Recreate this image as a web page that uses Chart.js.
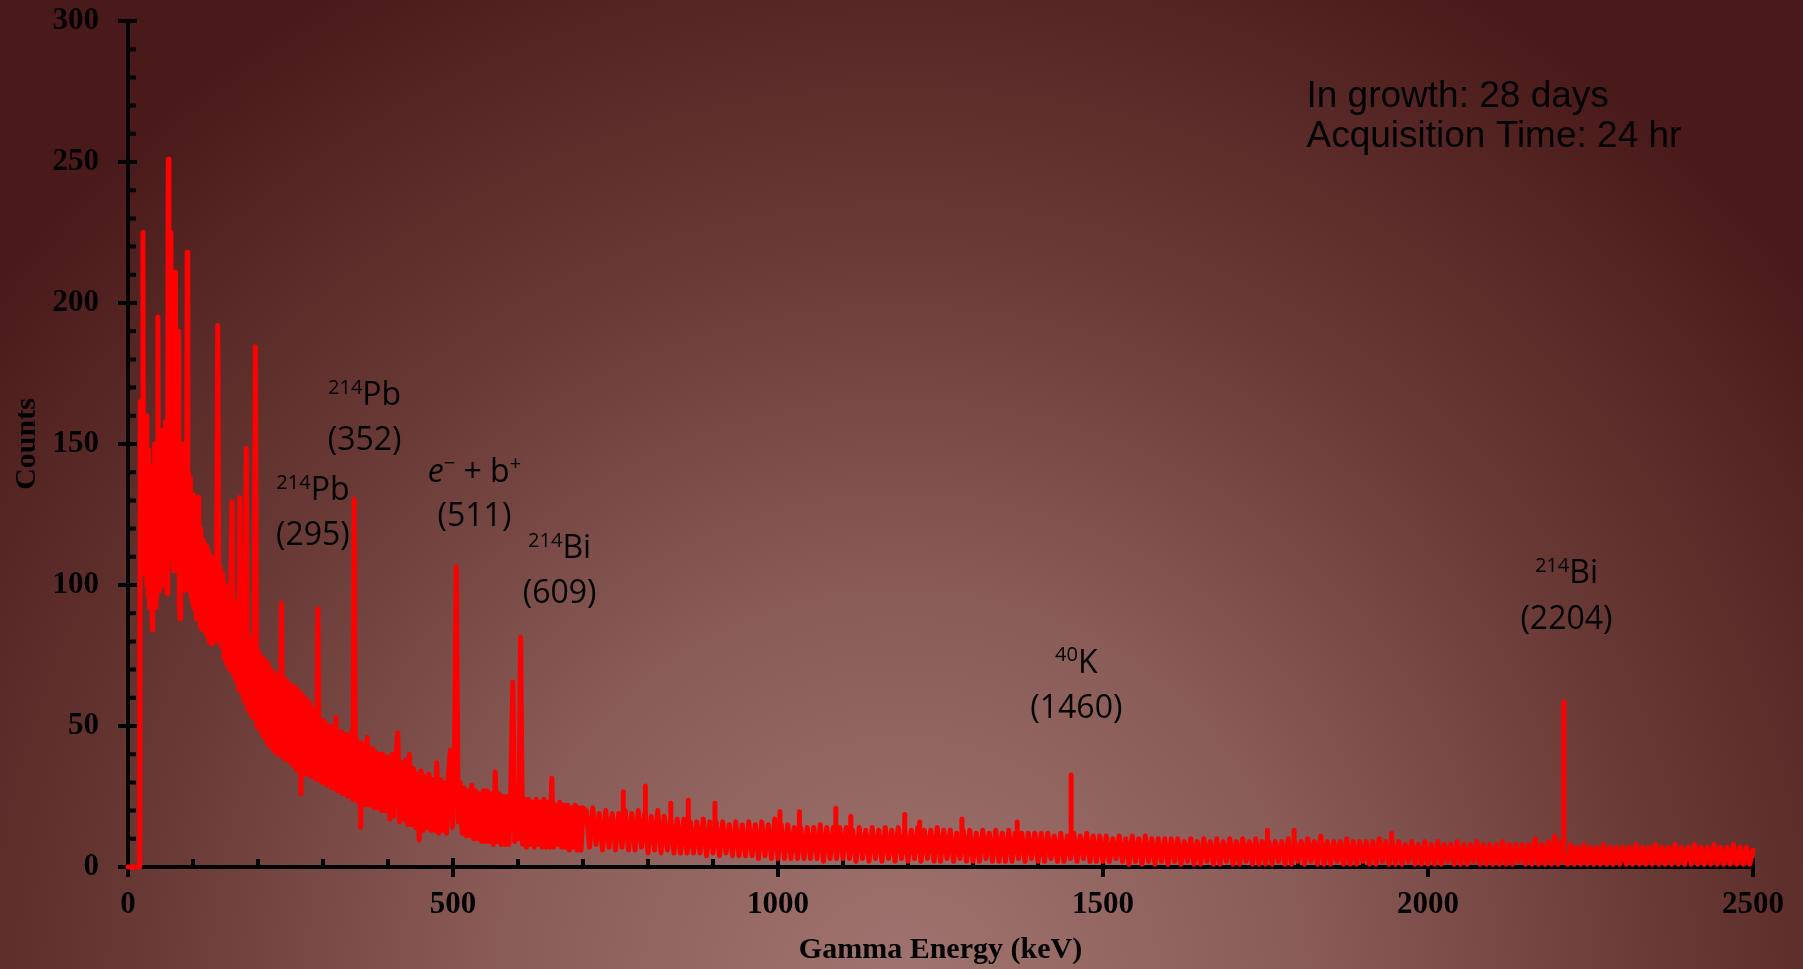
<!DOCTYPE html>
<html>
<head>
<meta charset="utf-8">
<script src="https://cdn.jsdelivr.net/npm/chart.js@4.4.1/dist/chart.umd.min.js"></script>
<style>
  html, body { margin: 0; padding: 0; overflow: hidden; background: #4a1a1a; }
  canvas { display: block; }
</style>
</head>
<body>
<canvas id="spectrum" width="1803" height="969" style="width:1803px;height:969px"></canvas>
<script>
// spectrum, one array of counts per energy segment
const baseEnergy = [0, 18];
const baseCounts = [0, 0];

// 19 .. 130 keV, 1 keV per point
const seg1Start = 19, seg1Step = 1;
const seg1Counts = [
  165, 110, 150, 105, 225, 112, 158, 104, 145, 160,
  100, 140, 96, 148, 92, 125, 98, 142, 88, 84,
  138, 95, 150, 92, 140, 95, 150, 195, 100, 148,
  98, 152, 104, 145, 100, 155, 108, 150, 104, 158,
  110, 97, 152, 251, 120, 160, 110, 225, 115, 150,
  108, 105, 148, 110, 211, 112, 155, 105, 150, 190,
  92, 88, 140, 100, 145, 102, 150, 98, 138, 104,
  145, 100, 218, 105, 140, 98, 135, 138, 96, 128,
  94, 132, 92, 125, 95, 120, 88, 122, 90, 131,
  88, 118, 85, 120, 88, 115, 84, 116, 86, 112,
  84, 114, 82, 110, 85, 112, 80, 108, 82, 110,
  79, 106
];

// 132 .. 400 keV, 2 keV per point
const seg2Start = 132, seg2Step = 2;
const seg2Counts = [
  80, 108, 84, 192, 80, 106, 78, 104, 74, 100,
  72, 98, 70, 96, 129.5, 68, 94, 66, 90, 63,
  131, 62, 87, 59, 86, 148.5, 56, 82, 54, 80,
  53, 78, 184.5, 50, 77, 49, 75, 47, 74, 46,
  73, 44, 72, 43, 70, 42, 69, 41, 68, 40,
  68, 40, 93.5, 39, 67, 38, 66, 38, 65, 37,
  64, 36, 64, 35, 63, 34, 62, 26, 61, 34,
  60, 33, 59, 33, 58, 32, 56, 32, 54, 31,
  91.5, 31, 52, 30, 52, 30, 51, 29, 50, 29,
  50, 28, 49, 28, 53, 27, 48, 27, 48, 26,
  47, 26, 47, 25, 46, 25, 48, 24, 130.5, 24,
  45, 23, 44, 14, 44, 23, 43, 22, 46, 22,
  42, 22, 42, 21, 41, 21, 40, 21, 40, 20,
  40, 20, 39, 20, 39
];

// 403 .. 700 keV, 3 keV per point
const seg3Start = 403, seg3Step = 3;
const seg3Counts = [
  17, 40, 18, 38, 47.5, 16, 37, 17, 38, 15,
  40, 15, 35, 14, 33, 9.6, 34, 13, 32, 14,
  33, 13, 31, 13, 37, 12, 31, 13, 30, 12,
  33, 41.5, 14, 34, 106.5, 16, 30, 12, 28, 11,
  27, 11, 29, 10, 27, 10, 26, 9, 27, 9,
  27, 9, 26, 8, 33.8, 9, 26, 8, 25, 8,
  25, 8, 28, 65.6, 9, 26, 10, 81.5, 8, 24,
  7, 24, 8, 23, 7, 24, 8, 23, 7, 24,
  7, 23, 7, 31.5, 7, 22, 8, 23, 7, 22,
  7, 22, 6, 21, 7, 22, 6, 21, 6, 21
];

// 705 .. 2500 keV, 5 keV per point (narrow lines are in the spike arrays below)
const seg4Start = 705, seg4Step = 5;
const seg4Counts = [
  20, 7, 21, 8, 19, 6, 20, 7, 19, 6,
  19, 7, 20, 6, 19, 6, 20, 7, 19, 5,
  18, 6, 20, 5, 18, 6, 17, 5, 17, 5,
  17, 5, 16, 5, 16, 5, 17, 4, 16, 5,
  16, 4, 16, 5, 15, 4, 16, 4, 15, 4,
  16, 4, 15, 3, 16, 4, 15, 3, 17, 3,
  15, 3, 15, 3, 14, 3, 14, 3, 14, 3,
  14, 3, 15, 2, 14, 3, 14, 3, 14, 3,
  14, 3, 13, 2, 14, 3, 13, 2, 14, 3,
  13, 2, 14, 3, 13, 2, 14, 3, 13, 2,
  13, 3, 14, 2, 13, 3, 13, 2, 14, 2,
  13, 3, 13, 2, 12, 3, 13, 2, 13, 2,
  12, 2, 13, 3, 12, 2, 13, 2, 12, 2,
  13, 2, 12, 3, 12, 2, 12, 3, 12, 2,
  12, 2, 12, 3, 11, 2, 12, 2, 11, 3,
  12, 2, 11, 3, 12, 2, 11, 2, 11, 2,
  11, 2, 10, 3, 11, 2, 10, 1, 11, 2,
  10, 1, 11, 2, 10, 1, 10, 2, 10, 1,
  10, 2, 10, 1, 9, 2, 10, 1, 9, 1,
  10, 2, 9, 1, 10, 1, 9, 2, 10, 1,
  9, 1, 10, 2, 9, 1, 10, 1, 9, 1,
  9, 1, 9, 2, 9, 1, 10, 1, 9, 2,
  9, 1, 10, 2, 9, 1, 11, 1, 9, 1,
  9, 2, 9, 1, 10, 1, 9, 1, 9, 2,
  9, 1, 9, 1, 10, 2, 9, 1, 9, 1,
  9, 1, 8, 2, 9, 1, 8, 1, 9, 1,
  8, 1, 9, 1, 8, 2, 8, 1, 9, 1,
  8, 1, 8, 2, 9, 1, 8, 1, 8, 1,
  8, 1, 9, 1, 8, 1, 8, 2, 8, 1,
  8, 1, 10, 1, 8, 1, 9, 1, 11, 1,
  9, 2, 1, 8, 1, 7, 1, 8, 1, 7,
  1, 7, 1, 8, 1, 7, 1, 7, 1, 7,
  1, 7, 1, 8, 1, 7, 1, 7, 1, 8,
  1, 7, 1, 7, 1, 8, 1, 7, 1, 7,
  1, 8, 1, 7, 1, 7, 1, 8, 1, 7,
  1, 7, 1, 8, 1, 7, 1, 7, 1, 6
];

// single-channel lines above 700 keV: energy, top, and the band level they rise from
const spikeEnergy = [762, 796, 835, 862, 903, 1003, 1033, 1089, 1112, 1195, 1218, 1283, 1368, 1451, 1753, 1794, 1944, 2209];
const spikeTop = [26.7, 28.7, 22.6, 23.7, 22.6, 19.6, 19.6, 20.8, 18, 18.6, 16, 17, 16, 32.6, 13, 13, 12, 58.6];
const spikeBase = [10, 10, 9, 9, 8, 7, 7, 7, 7, 6, 6, 6, 6, 6, 4, 4, 4, 3];

const xTicks = [0, 500, 1000, 1500, 2000, 2500];
const yTicks = [0, 50, 100, 150, 200, 250, 300];
const xMinorStep = 100, yMinorStep = 10;

// peak labels: nuclide line, energy line, where they sit (keV, counts at baseline)
const peakTitles = [
  [{t: '214', sup: true}, {t: 'Pb'}],
  [{t: '214', sup: true}, {t: 'Pb'}],
  [{t: 'e', it: true}, {t: '\u2212', sup: true}, {t: ' + b'}, {t: '+', sup: true}],
  [{t: '214', sup: true}, {t: 'Bi'}],
  [{t: '40', sup: true}, {t: 'K'}],
  [{t: '214', sup: true}, {t: 'Bi'}]
];
const peakEnergyText = ['(352)', '(295)', '(511)', '(609)', '(1460)', '(2204)'];
const labelKeV = [364, 284.5, 533, 664, 1459, 2213];
const labelTopCounts = [163.8, 130.1, 136.6, 109.4, 68.8, 100.7];
const labelBottomCounts = [148, 114.1, 120.9, 93.7, 52.8, 84.4];

const infoLines = ['In growth: 28 days', 'Acquisition Time: 24 hr'];
const infoKeV = 1813;
const infoCounts = [269.4, 255.2];

function segment(start, step, counts) {
  return counts.map((c, i) => ({x: start + i * step, y: c}));
}

const points = [
  ...baseEnergy.map((e, i) => ({x: e, y: baseCounts[i]})),
  ...segment(seg1Start, seg1Step, seg1Counts),
  ...segment(seg2Start, seg2Step, seg2Counts),
  ...segment(seg3Start, seg3Step, seg3Counts),
  ...segment(seg4Start, seg4Step, seg4Counts)
];

const spikePoints = [];
spikeEnergy.forEach((e, i) => {
  spikePoints.push({x: e, y: spikeBase[i]}, {x: e, y: spikeTop[i]}, {x: e, y: null});
});

const serif = "'Liberation Serif', 'Times New Roman', serif";
const sans = "'Open Sans', 'Noto Sans', sans-serif";

const backdrop = {
  id: 'backdrop',
  beforeDraw(chart) {
    const {ctx, width, height} = chart;
    const cx = width * 0.5, cy = height * 1.03;
    const g = ctx.createRadialGradient(cx, cy, 0, cx, cy, width * 0.64);
    g.addColorStop(0, '#a07470');
    g.addColorStop(0.35, '#8a5c57');
    g.addColorStop(0.65, '#6a3a36');
    g.addColorStop(0.85, '#582826');
    g.addColorStop(1, '#4a1a1a');
    ctx.save();
    ctx.fillStyle = g;
    ctx.fillRect(0, 0, width, height);
    ctx.restore();
  }
};

// axis lines with ticks crossing / inside, like the original
const axisTicks = {
  id: 'axisTicks',
  beforeDatasetsDraw(chart) {
    const {ctx} = chart;
    const xs = chart.scales.x, ys = chart.scales.y;
    const x0 = xs.getPixelForValue(0), x1 = xs.getPixelForValue(2500);
    const y0 = ys.getPixelForValue(0), y1 = ys.getPixelForValue(300);
    ctx.save();
    ctx.strokeStyle = '#000';
    ctx.lineWidth = 4;
    ctx.beginPath();
    ctx.moveTo(x0, y1 - 2); ctx.lineTo(x0, y0 + 2);
    ctx.moveTo(x0 - 2, y0); ctx.lineTo(x1 + 2, y0);
    for (let v = 0; v <= 300; v += yMinorStep) {
      const p = ys.getPixelForValue(v);
      if (yTicks.includes(v)) { ctx.moveTo(x0 - 10, p); ctx.lineTo(x0 + 9, p); }
      else { ctx.moveTo(x0, p); ctx.lineTo(x0 + 8, p); }
    }
    for (let v = 0; v <= 2500; v += xMinorStep) {
      const p = xs.getPixelForValue(v);
      if (xTicks.includes(v)) { ctx.moveTo(p, y0 - 9); ctx.lineTo(p, y0 + 10); }
      else { ctx.moveTo(p, y0 - 8); ctx.lineTo(p, y0); }
    }
    ctx.stroke();
    ctx.restore();
  }
};

function drawRich(ctx, parts, cx, baseline, size) {
  const supSize = Math.round(size * 0.64);
  const fontOf = p => (p.it ? 'italic ' : '') + (p.sup ? supSize : size) + 'px ' + sans;
  const widths = parts.map(p => { ctx.font = fontOf(p); return ctx.measureText(p.t).width; });
  let x = cx - widths.reduce((a, b) => a + b, 0) / 2;
  parts.forEach((p, i) => {
    ctx.font = fontOf(p);
    ctx.fillText(p.t, x, p.sup ? baseline - size * 0.36 : baseline);
    x += widths[i];
  });
}

const peakLabels = {
  id: 'peakLabels',
  afterDatasetsDraw(chart) {
    const {ctx} = chart;
    const xs = chart.scales.x, ys = chart.scales.y;
    ctx.save();
    ctx.fillStyle = '#000';
    ctx.textBaseline = 'alphabetic';
    ctx.textAlign = 'left';
    peakTitles.forEach((parts, i) => {
      const cx = xs.getPixelForValue(labelKeV[i]);
      drawRich(ctx, parts, cx, ys.getPixelForValue(labelTopCounts[i]), 32);
      drawRich(ctx, [{t: peakEnergyText[i]}], cx, ys.getPixelForValue(labelBottomCounts[i]), 32);
    });
    ctx.font = "37px 'Liberation Sans', Arial, sans-serif";
    infoLines.forEach((line, i) => {
      ctx.fillText(line, xs.getPixelForValue(infoKeV), ys.getPixelForValue(infoCounts[i]));
    });
    ctx.restore();
  }
};

const lineStyle = {
  borderColor: '#ff0000',
  borderWidth: 5,
  pointRadius: 0,
  tension: 0,
  fill: false,
  borderJoinStyle: 'round',
  borderCapStyle: 'round',
  clip: false
};

new Chart(document.getElementById('spectrum'), {
  type: 'line',
  data: {
    datasets: [
      {...lineStyle, data: points},
      {...lineStyle, data: spikePoints, spanGaps: false}
    ]
  },
  options: {
    responsive: false,
    animation: false,
    devicePixelRatio: 1,
    layout: {padding: {top: 21, right: 50, left: 0, bottom: 0}},
    plugins: {legend: {display: false}, tooltip: {enabled: false}},
    scales: {
      x: {
        type: 'linear',
        min: 0,
        max: 2500,
        grid: {display: false, drawTicks: false},
        border: {display: false},
        afterBuildTicks: s => { s.ticks = xTicks.map(v => ({value: v})); },
        ticks: {
          padding: 19,
          maxRotation: 0,
          color: '#000',
          font: {family: serif, size: 31, weight: 'bold'},
          callback: v => String(v)
        },
        title: {
          display: true,
          text: 'Gamma Energy (keV)',
          color: '#000',
          font: {family: serif, size: 30, weight: 'bold'},
          padding: {top: 0, bottom: 1}
        },
        afterFit: s => { s.height = 102; s.paddingLeft = 0; s.paddingRight = 0; }
      },
      y: {
        min: 0,
        max: 300,
        grid: {display: false, drawTicks: false},
        border: {display: false},
        afterBuildTicks: s => { s.ticks = yTicks.map(v => ({value: v})); },
        ticks: {
          padding: 29,
          color: '#000',
          font: {family: serif, size: 31, weight: 'bold'},
          callback: v => String(v)
        },
        title: {
          display: true,
          text: 'Counts',
          color: '#000',
          font: {family: serif, size: 30, weight: 'bold'},
          padding: {top: 9, bottom: 0}
        },
        afterFit: s => { s.width = 128; s.paddingTop = 0; s.paddingBottom = 0; }
      }
    }
  },
  plugins: [backdrop, axisTicks, peakLabels]
});
</script>
</body>
</html>
